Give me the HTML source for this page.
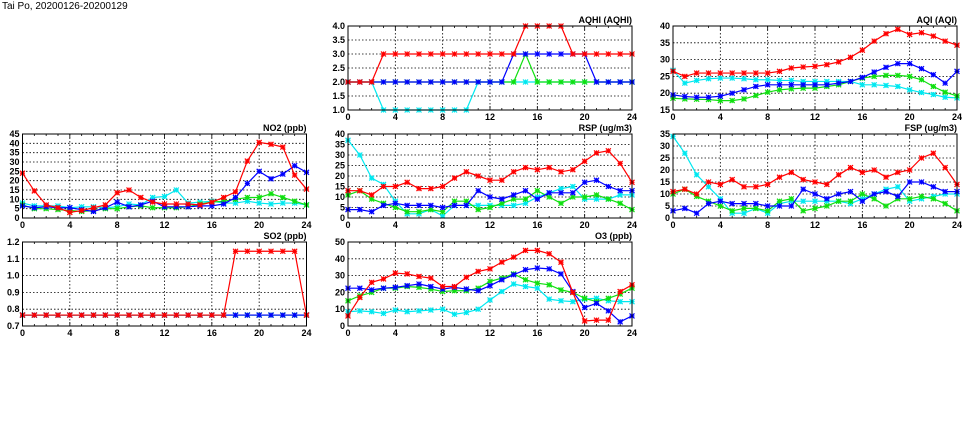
<!DOCTYPE html>
<html><head><meta charset="utf-8"><style>
html,body{margin:0;padding:0;background:#fff;width:975px;height:447px;overflow:hidden}
svg{display:block}
text{font-family:"Liberation Sans",sans-serif;font-size:9px;font-weight:bold;fill:#000}
</style></head><body>
<svg id="s" width="975" height="447" xmlns="http://www.w3.org/2000/svg">
<text x="2" y="9" style="font-weight:normal;font-size:10px">Tai Po, 20200126-20200129</text>
</svg>
<script>
const S=document.getElementById('s');const NS='http://www.w3.org/2000/svg';
function el(t,a,txt){const e=document.createElementNS(NS,t);for(const k in a)e.setAttribute(k,a[k]);if(txt!==undefined)e.textContent=txt;S.appendChild(e);return e;}
const panels=[
{x:348,y:26,t:'AQHI (AQHI)',min:1,max:4,step:0.5,fmt:1,d:{
c:[2,2,2,1,1,1,1,1,1,1,1,2,2,2,2,2,2,2,2,2,2,2,2,2,2],
g:[2,2,2,2,2,2,2,2,2,2,2,2,2,2,2,3,2,2,2,2,2,2,2,2,2],
b:[2,2,2,2,2,2,2,2,2,2,2,2,2,2,3,3,3,3,3,3,3,2,2,2,2],
r:[2,2,2,3,3,3,3,3,3,3,3,3,3,3,3,4,4,4,4,3,3,3,3,3,3]}},
{x:673,y:26,t:'AQI (AQI)',min:15,max:40,step:5,fmt:0,d:{
c:[26.8,23,23.8,24.3,24.5,24.5,24.3,24,24,23.8,23.8,23.5,23.5,23.5,23.5,23.5,22.5,22.5,22.3,22,21,20.2,19.6,18.8,18.6],
g:[18.5,18.3,18.2,18.1,17.8,17.8,18.3,19.3,20.3,21,21.3,21.5,21.5,22,22.5,23.5,24.5,25,25.3,25.3,25,24,22,20.3,19.2],
b:[19.5,19,18.8,18.8,19.1,20,21,22,22.5,22.5,22.5,22.5,22.5,22.5,23,23.5,24.7,26.3,27.7,28.8,28.8,27.3,25.5,23,26.5],
r:[26.5,25,26,26,26,26,26,26,26,26.5,27.5,27.8,28,28.5,29.3,30.7,32.8,35.5,37.7,39,37.5,38,37,35.5,34.3]}},
{x:22.5,y:134,t:'NO2 (ppb)',min:0,max:45,step:5,fmt:0,d:{
c:[8,6.5,6.5,6.5,5.5,6,6,5.5,6,7.5,7,11,11.5,15,8,8.5,9,8,8,9,8,7.5,8,8,7],
g:[7,5,5,4.5,4,3.5,4,5,5,6,6.5,5.5,5.5,5.5,6,7.5,8.5,9,10,11,11,13,11,9,7],
b:[6.5,5.5,6,5.5,5.5,4.5,3.5,5.5,8.5,6,7,9,6,6,6,6.5,6.5,7.5,11,18.5,25,21,23.5,28,24.5],
r:[24,14.5,7,5.5,3,4,5.5,7,13.5,15,11,8.5,7.5,7.5,7.5,7,8.5,11,14,30.5,40.5,39.5,38,23,15.5]}},
{x:348,y:134,t:'RSP (ug/m3)',min:0,max:40,step:5,fmt:0,d:{
c:[37,30,19,16,8,2,2,4,1,6,6,6,6,6,6,7,10,12,14,15,9,9,9,11,11],
g:[11,13,9,7,5,3,3,4,3,8,8,4,5,7,9,9,13,10,7,10,10,11,9,7,4],
b:[4,4,3,6,7,6,6,6,5,6,6,13,10,9,11,13,9,12,12,12,17,18,15,13,13],
r:[13,13,11,15,15,17,14,14,15,19,22,20,18,18,22,24,23,24,22,23,27,31,32,26,17]}},
{x:673,y:134,t:'FSP (ug/m3)',min:0,max:35,step:5,fmt:0,d:{
c:[34,27,18,13,8,2,2,4,2,6,7,7,7,7,7,6,8,10,12,13,7,8,9,10,10],
g:[10,12,9,7,5,3,4,4,3,7,8,3,4,5,7,7,10,8,5,8,8,9,8,6,3],
b:[3,4,2,6,7,6,6,6,5,5,5,12,10,8,10,11,7,10,11,9,15,15,13,11,11],
r:[11,12,10,15,14,16,13,13,14,17,19,16,15,14,18,21,19,20,17,19,20,25,27,21,14]}},
{x:22.5,y:242,t:'SO2 (ppb)',min:0.7,max:1.2,step:0.1,fmt:1,d:{
c:Array(25).fill(0.765),g:Array(25).fill(0.765),b:Array(25).fill(0.765),
r:[...Array(18).fill(0.765),1.145,1.145,1.145,1.145,1.145,1.145,0.765]}},
{x:348,y:242,t:'O3 (ppb)',min:0,max:50,step:10,fmt:0,d:{
c:[8.5,9,8.5,7.5,9.5,8.5,9,9.5,10,7,8,10,15.5,20.5,25,23.5,22.5,16,15,14.5,16,16.5,15,14.5,14.5],
g:[15,18,20,22.5,22.5,23.5,23,22,20.5,21,21,22.5,26.5,28.5,31,27.5,25.5,24.5,21.5,20,16.5,14.5,16.5,19,22.5],
b:[22.5,22.5,21.5,22.5,23,24,25,23.5,22,23,22,21,24,27.5,30.5,33.5,34.5,34,31,20.5,11,13.5,9,2.5,6],
r:[6,17,26,28,31.5,31,29.5,28.5,23.5,23.5,29,32.5,34,38,41,45,45,43,38,20,3,3.5,3.5,20.5,24.5]}}
];
const W=284,H=84;const col={c:'#00e8f0',g:'#10e010',b:'#0000ff',r:'#ff0000'};
for(const p of panels){
 const X=i=>p.x+i*W/24, Y=v=>p.y+H-(v-p.min)/(p.max-p.min)*H;
 el('rect',{x:p.x,y:p.y,width:W,height:H,fill:'#fff'});
 for(let v=p.min+p.step;v<p.max-1e-9;v+=p.step){const y=Y(v);el('line',{x1:p.x,x2:p.x+W,y1:y,y2:y,stroke:'#000','stroke-width':0.8,'stroke-dasharray':'1.5,2'});}
 for(let h=4;h<24;h+=4)el('line',{x1:X(h),x2:X(h),y1:p.y,y2:p.y+H,stroke:'#000','stroke-width':0.8,'stroke-dasharray':'1.5,2'});
 for(let h=1;h<24;h++){const l=h%4?2:4;el('line',{x1:X(h),x2:X(h),y1:p.y+H,y2:p.y+H-l,stroke:'#000','stroke-width':0.8});el('line',{x1:X(h),x2:X(h),y1:p.y,y2:p.y+l,stroke:'#000','stroke-width':0.8});}
 for(let v=p.min;v<=p.max+1e-9;v+=p.step){el('text',{x:p.x-3,y:Y(v)+3,'text-anchor':'end'},v.toFixed(p.fmt));}
 for(let h=0;h<=24;h+=4)el('text',{x:X(h),y:p.y+H+10,'text-anchor':'middle'},h);
 el('text',{x:p.x+W,y:p.y-3,'text-anchor':'end'},p.t);
 for(const k of ['c','g','b','r']){const d=p.d[k];
  el('polyline',{points:d.map((v,i)=>X(i)+','+Y(v)).join(' '),fill:'none',stroke:col[k],'stroke-width':1.2});
  d.forEach((v,i)=>{const x=X(i),y=Y(v),s=2.5;
   el('path',{d:`M${x-s},${y-s}L${x+s},${y+s}M${x-s},${y+s}L${x+s},${y-s}M${x-s},${y}L${x+s},${y}M${x},${y-s}L${x},${y+s}`,stroke:col[k],'stroke-width':1.2,fill:'none'});});}
 el('rect',{x:p.x,y:p.y,width:W,height:H,fill:'none',stroke:'#000','stroke-width':1});
}
</script>
</body></html>
